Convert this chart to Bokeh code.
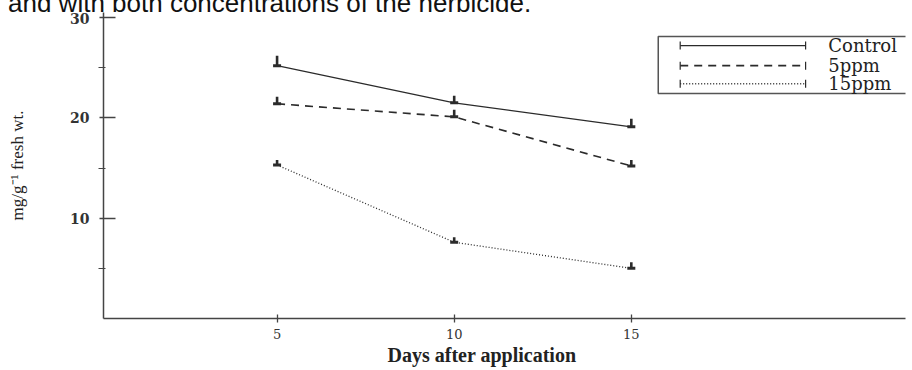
from bokeh.plotting import figure
from bokeh.models import Range1d, FixedTicker, Title, Div
from bokeh.layouts import column
from bokeh.core.properties import value
from bokeh.embed import file_html
from bokeh.resources import INLINE

# ---- data ----
days = [5, 10, 15]
control = [25.2, 21.5, 19.1]
ppm5 = [21.4, 20.1, 15.2]
ppm15 = [15.3, 7.6, 5.0]
control_err = [1.0, 0.7, 0.8]
ppm5_err = [0.7, 0.7, 0.6]
ppm15_err = [0.5, 0.5, 0.6]

series_names = ["Control", "5ppm", "15ppm"]
y_ticks = [10, 20, 30]
y_minor = [5, 15, 25]
x_ticks = [5, 10, 15]

caption = "and with both concentrations of the herbicide."
y_title = "mg/g\u207b\u00b9 fresh wt."
x_title = "Days after application"

INK = "#2b2b2b"
SERIF = "Liberation Serif"
WIDE_SERIF = "DejaVu Serif"

p = figure(width=912, height=358, output_backend="svg", toolbar_location=None,
           x_range=Range1d(0.1, 22.74), y_range=Range1d(0, 30.5),
           min_border_left=103, min_border_right=7, min_border_top=0,
           min_border_bottom=52, margin=0)
p.background_fill_color = "white"
p.border_fill_color = "white"
p.outline_line_color = None
p.xgrid.visible = False
p.ygrid.visible = False

# axes
p.yaxis.ticker = FixedTicker(ticks=y_ticks, minor_ticks=y_minor)
p.xaxis.ticker = FixedTicker(ticks=x_ticks, minor_ticks=[])
for ax in (p.xaxis[0], p.yaxis[0]):
    ax.axis_line_color = "#444444"
    ax.axis_line_width = 1.5
    ax.major_tick_line_color = "#444444"
    ax.major_tick_line_width = 1.3
    ax.minor_tick_line_color = "#444444"
    ax.minor_tick_line_width = 1.2
    ax.major_label_text_font = WIDE_SERIF
    ax.major_label_text_color = "#333333"
p.yaxis.major_label_text_font_style = "bold"
p.yaxis.major_label_text_font_size = "14px"
p.xaxis.major_label_text_font_size = "13px"
p.yaxis.major_tick_out = 4
p.yaxis.major_tick_in = 12
p.yaxis.minor_tick_out = 5
p.yaxis.minor_tick_in = 2
p.yaxis.major_label_standoff = 9
p.xaxis.major_tick_out = 4
p.xaxis.major_tick_in = 4
p.xaxis.major_label_standoff = 6

p.yaxis.axis_label = y_title
p.yaxis.axis_label_text_font = SERIF
p.yaxis.axis_label_text_font_style = "normal"
p.yaxis.axis_label_text_font_size = "17px"
p.yaxis.axis_label_text_color = "#222222"
p.yaxis.axis_label_standoff = 40

xt = Title(text=x_title, align="left", offset=284, text_font=SERIF,
           text_font_style="bold", text_font_size="20px", text_color="#222222")
if "standoff" in Title.properties():
    xt.standoff = 0
p.add_layout(xt, "below")

# series
line_styles = [("solid", 1.3), ("8 6", 1.6), ("1 2", 1.3)]
vals = [control, ppm5, ppm15]
errs = [control_err, ppm5_err, ppm15_err]
for v, e, (dash, lw) in zip(vals, errs, line_styles):
    p.line(days, v, line_color=INK, line_width=lw, line_dash=dash)
    tops = [a + b for a, b in zip(v, e)]
    p.segment(x0=days, y0=v, x1=days, y1=tops, line_color=INK, line_width=2.6)
    p.scatter(days, v, marker="dash", size=8, line_color=INK, line_width=3)

# legend (boxed, running off the right edge like the scan)
lx0, lx1, ltx = 16.38, 19.92, 20.56
rows_y = [27.2, 25.2, 23.4]
p.quad(left=[15.76], right=[23.6], top=[28.11], bottom=[22.43],
       fill_color=None, line_color="#555555", line_width=1.5)
for name, y, (dash, lw) in zip(series_names, rows_y, line_styles):
    p.line([lx0, lx1], [y, y], line_color=INK, line_width=lw, line_dash=dash)
    p.segment(x0=[lx0, lx1], y0=[y - 0.4, y - 0.4], x1=[lx0, lx1], y1=[y + 0.4, y + 0.4],
              line_color=INK, line_width=1.2)
    p.text(x=[ltx], y=[y], text=[name], text_font=value(WIDE_SERIF), text_font_size="18px",
           text_color="#222222", text_baseline="middle", text_align="left")

cap = Div(text=('<div style="margin-top:-10px;padding-left:8px;white-space:nowrap;'
                'font-family:\'Liberation Sans\';font-size:26px;line-height:26px;color:#111">'
                + caption + '</div>'),
          width=912, height=12, margin=0, styles={"overflow": "hidden"})

layout = column(cap, p, spacing=0, margin=0)
open("out.html", "w").write(file_html(layout, INLINE))
